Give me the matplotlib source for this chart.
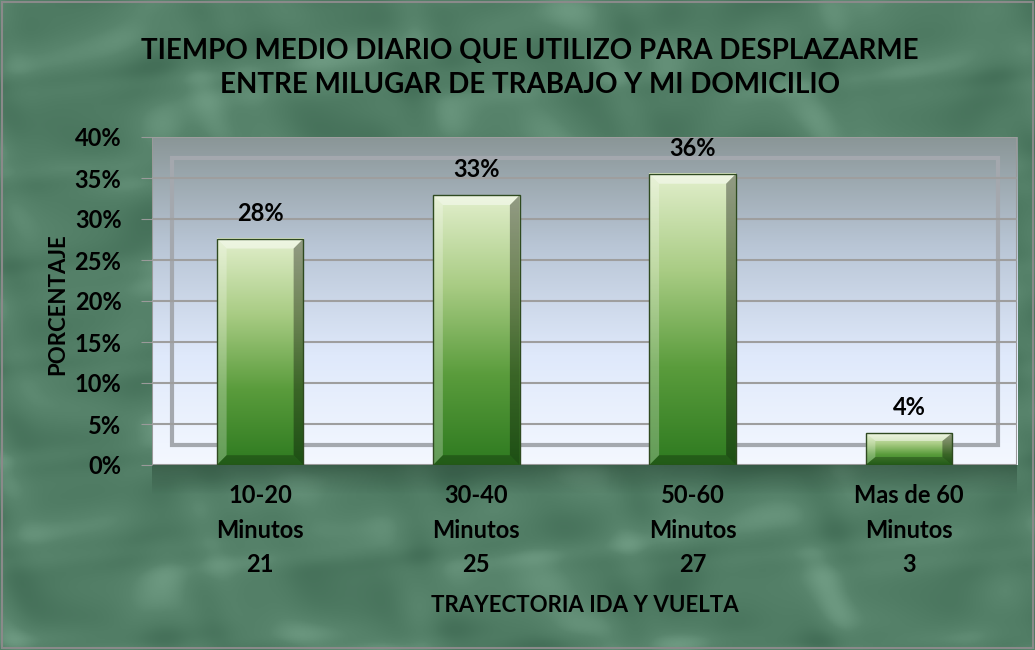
import numpy as np
import matplotlib
matplotlib.use("Agg")
import matplotlib.pyplot as plt
from matplotlib.colors import LinearSegmentedColormap
from matplotlib.patches import Polygon, Rectangle

# datos
categorias = ["10-20\nMinutos\n21", "30-40\nMinutos\n25", "50-60\nMinutos\n27", "Mas de 60\nMinutos\n3"]
porcentajes = [0.276, 0.329, 0.355, 0.039]
etiquetas = ["28%", "33%", "36%", "4%"]
yticks = [0, 0.05, 0.10, 0.15, 0.20, 0.25, 0.30, 0.35, 0.40]

plt.rcParams['font.family'] = ['Lato', 'DejaVu Sans']
plt.rcParams['font.weight'] = 'bold'

W, H = 1035, 650
fig = plt.figure(figsize=(W / 100, H / 100), dpi=100)

# fondo tipo marmol verde (textura suave hecha con senos)
bg = fig.add_axes([0, 0, 1, 1])
xx, yy = np.meshgrid(np.linspace(0, 1, 600), np.linspace(0, 1, 380))
tex = (np.sin(21 * xx + 4 * np.sin(17 * yy)) + np.sin(27 * yy + 3 * np.sin(23 * xx))
       + 0.7 * np.sin(47 * (xx + 0.6 * yy) + 2.5 * np.sin(31 * xx))
       + 0.5 * np.sin(71 * (yy - 0.4 * xx) + 2 * np.sin(43 * yy)))
marmol = LinearSegmentedColormap.from_list("m", ["#446f58", "#4f7b63", "#58846c", "#6e9a82"])
bg.imshow(tex, cmap=marmol, extent=[0, 1, 0, 1], aspect="auto", origin="lower")
bg.add_patch(Rectangle((0.002, 0.003), 0.996, 0.994, fill=False, ec="#8a8a8a", lw=1.5))
bg.set_xlim(0, 1)
bg.set_ylim(0, 1)

# sombra difusa bajo el area de trazado
left, right, bottom, top = 152, 1017, 465, 137
sh = np.zeros((40, 2, 4))
sh[..., :3] = np.array([0.10, 0.20, 0.14])
sh[..., 3] = np.linspace(0, 0.4, 40)[:, None]
bg.imshow(sh, extent=[left / W, right / W, 1 - 495 / H, 1 - bottom / H], aspect="auto",
          origin="lower", zorder=1)
bg.axis("off")

# area de trazado
ax = fig.add_axes([left / W, 1 - bottom / H, (right - left) / W, (bottom - top) / H])
ax.set_xlim(-0.5, 3.5)
ax.set_ylim(0, 0.40)

fondo = LinearSegmentedColormap.from_list("f", ["#f4f8ff", "#dfe9fb", "#b9c6d6", "#8a9697"])
ax.imshow(np.linspace(0, 1, 256).reshape(-1, 1), cmap=fondo, extent=[-0.5, 3.5, 0, 0.40],
          aspect="auto", origin="lower", zorder=0)

# pared del fondo (efecto 3D)
ax.add_patch(Rectangle((20 / (right - left), 20 / (bottom - top)),
                       (998 - 172) / (right - left), (445 - 158) / (bottom - top),
                       transform=ax.transAxes, fill=False, ec="#a4a8ae", lw=3, zorder=1))
ax.add_patch(Rectangle((0, 0), 1, 1, transform=ax.transAxes, fill=False, ec="#9a9a9a", lw=1.5, zorder=1))

for t in yticks[1:]:
    ax.axhline(t, color="#9e9e9e", lw=1.5, zorder=2)

barra = LinearSegmentedColormap.from_list("b", ["#2e7a20", "#5a9c3c", "#a9cc84", "#e2efcc"])
ancho = 0.40
for i, v in enumerate(porcentajes):
    x0, x1 = i - ancho / 2, i + ancho / 2
    ax.imshow(np.linspace(0, 1, 256).reshape(-1, 1), cmap=barra, extent=[x0, x1, 0, v],
              aspect="auto", origin="lower", zorder=3)
    bx = 0.045
    by = min(0.012, v / 4)
    sombras = [
        ([(x0, v), (x1, v), (x1 - bx, v - by), (x0 + bx, v - by)], "white", 0.45),
        ([(x0, 0), (x0, v), (x0 + bx, v - by), (x0 + bx, by)], "white", 0.25),
        ([(x1, 0), (x1, v), (x1 - bx, v - by), (x1 - bx, by)], "black", 0.35),
        ([(x0, 0), (x1, 0), (x1 - bx, by), (x0 + bx, by)], "black", 0.25),
    ]
    for pts, c, a in sombras:
        ax.add_patch(Polygon(pts, closed=True, fc=c, alpha=a, ec="none", zorder=4))
    ax.add_patch(Rectangle((x0, 0), ancho, v, fill=False, ec="#2f4a20", lw=1, zorder=5))
    ax.text(i, v + 0.017, etiquetas[i], ha="center", va="bottom", fontsize=17,
            fontweight="bold", zorder=6)

ax.set_xticks(range(len(categorias)))
ax.set_xticklabels(categorias, fontsize=17, fontweight="bold", linespacing=1.6)
ax.tick_params(axis="x", length=0, pad=14)
ax.set_yticks(yticks)
ax.set_yticklabels([f"{int(round(t * 100))}%" for t in yticks], fontsize=17, fontweight="bold")
ax.tick_params(axis="y", length=8, color="#9a9a9a", pad=14)
for s in ax.spines.values():
    s.set_visible(False)

fig.text(58 / W, 1 - 304 / H, "PORCENTAJE", rotation=90, ha="center", va="center",
         fontsize=16, fontweight="bold")
fig.text(585 / W, 1 - 605 / H, "TRAYECTORIA IDA Y VUELTA", ha="center", va="center",
         fontsize=16, fontweight="bold")
fig.text(530 / W, 1 - 68 / H,
         "TIEMPO MEDIO DIARIO QUE UTILIZO PARA DESPLAZARME\nENTRE MILUGAR DE TRABAJO Y MI DOMICILIO",
         ha="center", va="center", fontsize=20, fontweight="bold", linespacing=1.35)

fig.savefig("out.png", dpi=100)
